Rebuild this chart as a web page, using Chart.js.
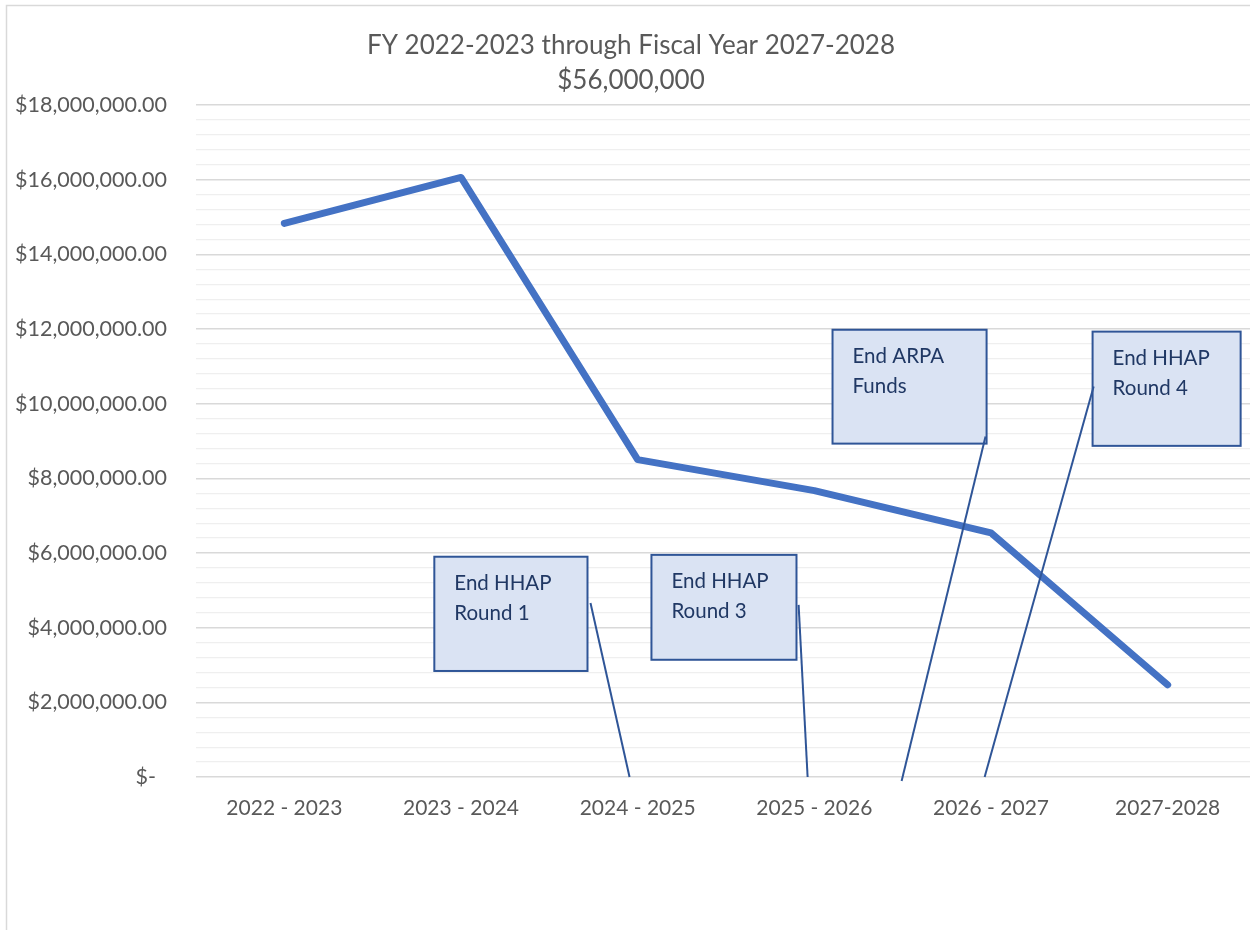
<!DOCTYPE html>
<html lang="en">
<head>
    <meta charset="UTF-8">
    <title>FY 2022-2023 through Fiscal Year 2027-2028</title>
    <script src="https://cdn.jsdelivr.net/npm/chart.js"></script>
    <style>
        html, body { margin: 0; padding: 0; background: #ffffff; overflow: hidden; }
        #wrap { width: 1260px; height: 930px; }
    </style>
</head>
<body>
    <div id="wrap">
        <canvas id="myChart" width="1260" height="930"></canvas>
    </div>
<script>
    // chart data
    const categories = ['2022 - 2023', '2023 - 2024', '2024 - 2025', '2025 - 2026', '2026 - 2027', '2027-2028'];
    const funding = [14830000, 16060000, 8500000, 7670000, 6540000, 2470000];
    const yTickLabels = ['$-  ', '$2,000,000.00', '$4,000,000.00', '$6,000,000.00', '$8,000,000.00',
        '$10,000,000.00', '$12,000,000.00', '$14,000,000.00', '$16,000,000.00', '$18,000,000.00'];
    const titleLines = ['FY 2022-2023 through Fiscal Year 2027-2028', '$56,000,000'];
    const calloutTexts = [
        ['End HHAP', 'Round 1'],
        ['End HHAP', 'Round 3'],
        ['End ARPA', 'Funds'],
        ['End HHAP', 'Round 4']
    ];

    // callout placement, in category index / dollar units
    const calloutPlacement = [
        { box: [0.849, 1.716, 5900000, 2840000], from: [1.733, 4660000], to: [1.954, 0] },
        { box: [2.078, 2.899, 5950000, 3140000], from: [2.911, 4610000], to: [2.962, 0] },
        { box: [3.103, 3.975, 11980000, 8930000], from: [3.969, 9120000], to: [3.494, -110000] },
        { box: [4.575, 5.413, 11930000, 8870000], from: [4.581, 10460000], to: [3.964, 0] }
    ];

    const FONT = 'Lato, "Open Sans", sans-serif';
    const textGrey = '#595959';

    const framePlugin = {
        id: 'frame',
        beforeDraw(chart) {
            const ctx = chart.ctx;
            ctx.save();
            ctx.strokeStyle = '#d9d9d9';
            ctx.lineWidth = 1.5;
            ctx.beginPath();
            ctx.moveTo(6.5, 935);
            ctx.lineTo(6.5, 5.5);
            ctx.lineTo(1265, 5.5);
            ctx.stroke();

            ctx.fillStyle = textGrey;
            ctx.font = '26px ' + FONT;
            ctx.textAlign = 'center';
            ctx.textBaseline = 'alphabetic';
            ctx.fillText(titleLines[0], 631, 54);
            ctx.fillText(titleLines[1], 631, 89);
            ctx.restore();
        }
    };

    const calloutPlugin = {
        id: 'callouts',
        afterDatasetsDraw(chart) {
            const ctx = chart.ctx;
            const x = chart.scales.x;
            const y = chart.scales.y;
            ctx.save();
            calloutPlacement.forEach(function (c, i) {
                const left = x.getPixelForValue(c.box[0]);
                const right = x.getPixelForValue(c.box[1]);
                const top = y.getPixelForValue(c.box[2]);
                const bottom = y.getPixelForValue(c.box[3]);

                ctx.fillStyle = '#dae3f3';
                ctx.fillRect(left, top, right - left, bottom - top);
                ctx.strokeStyle = '#2f5597';
                ctx.lineWidth = 2;
                ctx.strokeRect(left, top, right - left, bottom - top);

                ctx.fillStyle = '#203864';
                ctx.font = '20.5px ' + FONT;
                ctx.textAlign = 'left';
                ctx.textBaseline = 'alphabetic';
                calloutTexts[i].forEach(function (line, k) {
                    ctx.fillText(line, left + 20, top + 33 + k * 30);
                });

                ctx.strokeStyle = '#2f5597';
                ctx.lineWidth = 2;
                ctx.beginPath();
                ctx.moveTo(x.getPixelForValue(c.from[0]), y.getPixelForValue(c.from[1]));
                ctx.lineTo(x.getPixelForValue(c.to[0]), y.getPixelForValue(c.to[1]));
                ctx.stroke();
            });
            ctx.restore();
        }
    };

    function isMajor(value) {
        return Math.abs(value / 2000000 - Math.round(value / 2000000)) < 1e-6;
    }

    const data = {
        labels: categories,
        datasets: [{
            label: 'Funding',
            data: funding,
            borderColor: '#4472c4',
            backgroundColor: '#4472c4',
            borderWidth: 7,
            borderCapStyle: 'round',
            borderJoinStyle: 'round',
            pointRadius: 0,
            tension: 0
        }]
    };

    const config = {
        type: 'line',
        data: data,
        options: {
            responsive: false,
            animation: false,
            devicePixelRatio: 1,
            layout: { padding: { top: 105, left: 0, right: 4, bottom: 0 } },
            plugins: {
                legend: { display: false },
                title: { display: false },
                tooltip: { enabled: false }
            },
            scales: {
                x: {
                    offset: true,
                    grid: { display: false, drawTicks: false },
                    border: { display: false },
                    ticks: {
                        color: textGrey,
                        font: { family: FONT, size: 21 },
                        padding: 19,
                        maxRotation: 0,
                        autoSkip: false
                    },
                    afterFit(scale) { scale.height = 153; }
                },
                y: {
                    min: 0,
                    max: 18000000,
                    border: { display: false },
                    grid: {
                        drawTicks: false,
                        color: function (c) { return isMajor(c.tick.value) ? '#d9d9d9' : '#efefef'; },
                        lineWidth: function (c) { return isMajor(c.tick.value) ? 1.5 : 1.2; }
                    },
                    ticks: {
                        stepSize: 400000,
                        autoSkip: false,
                        color: textGrey,
                        font: { family: FONT, size: 21.5 },
                        padding: 29,
                        callback: function (value) {
                            if (isMajor(value)) {
                                return yTickLabels[Math.round(value / 2000000)];
                            }
                            return '';
                        }
                    },
                    afterFit(scale) { scale.width = 196; }
                }
            }
        },
        plugins: [framePlugin, calloutPlugin]
    };

    var lineChart = new Chart('myChart', config);
</script>
</body>
</html>
